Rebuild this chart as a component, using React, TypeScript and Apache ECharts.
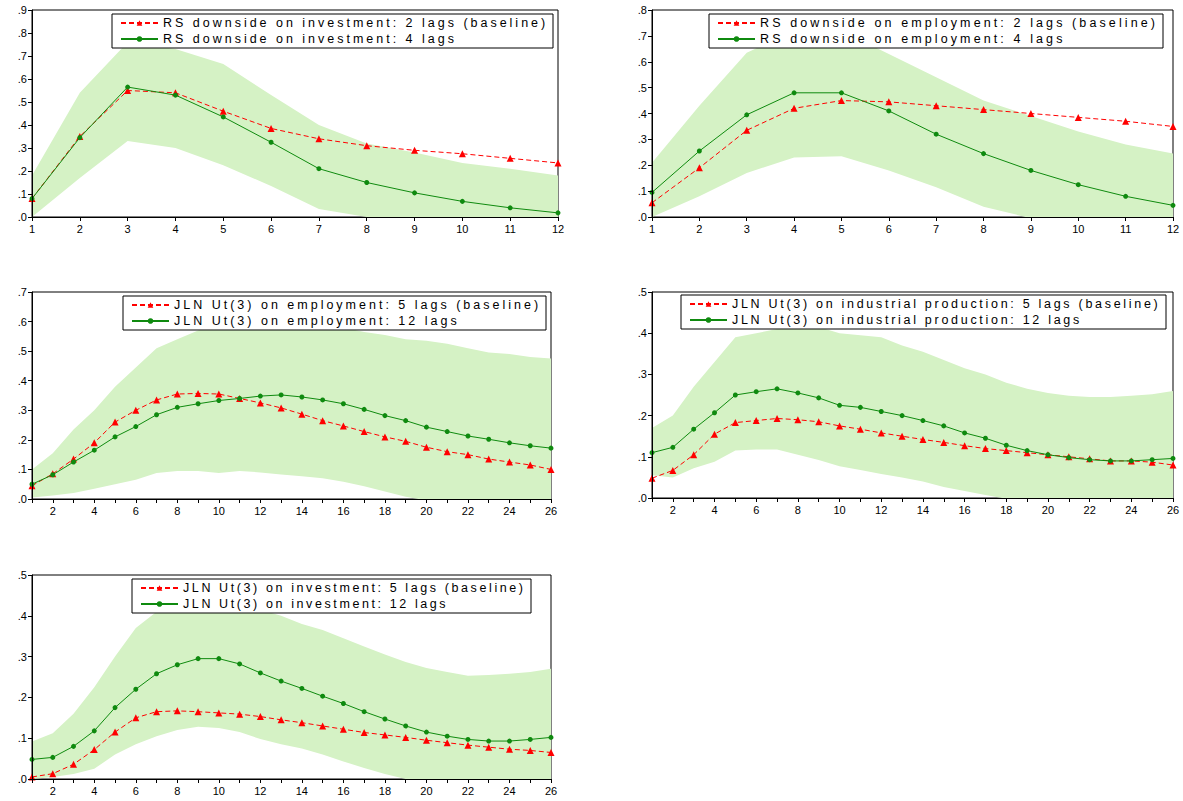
import React, { useEffect, useRef } from "react";
import * as echarts from "echarts";

const X12 = ["1", "2", "3", "4", "5", "6", "7", "8", "9", "10", "11", "12"];
const X26 = ["1", "2", "3", "4", "5", "6", "7", "8", "9", "10", "11", "12", "13", "14", "15", "16", "17", "18", "19", "20", "21", "22", "23", "24", "25", "26"];

// Panel 1: RS downside on investment
const p1Red = [0.08, 0.35, 0.55, 0.54, 0.46, 0.385, 0.34, 0.31, 0.29, 0.275, 0.255, 0.235];
const p1Green = [0.08, 0.345, 0.565, 0.53, 0.435, 0.325, 0.21, 0.15, 0.105, 0.068, 0.04, 0.018];
const p1Upper = [0.18, 0.54, 0.76, 0.73, 0.665, 0.53, 0.4, 0.32, 0.28, 0.235, 0.21, 0.18];
const p1Lower = [0.0, 0.17, 0.33, 0.3, 0.225, 0.135, 0.035, 0.0, -0.03, -0.05, -0.06, -0.07];

// Panel 2: RS downside on employment
const p2Red = [0.055, 0.19, 0.335, 0.42, 0.45, 0.445, 0.43, 0.415, 0.4, 0.385, 0.37, 0.35];
const p2Green = [0.095, 0.255, 0.395, 0.48, 0.48, 0.41, 0.32, 0.245, 0.18, 0.125, 0.08, 0.045];
const p2Upper = [0.21, 0.43, 0.635, 0.72, 0.72, 0.63, 0.54, 0.45, 0.39, 0.33, 0.28, 0.245];
const p2Lower = [0.0, 0.08, 0.17, 0.23, 0.235, 0.18, 0.115, 0.04, -0.005, -0.03, -0.05, -0.06];

// Panel 3: JLN Ut(3) on employment
const p3Red = [0.045, 0.085, 0.135, 0.19, 0.26, 0.3, 0.335, 0.355, 0.357, 0.355, 0.34, 0.325, 0.308, 0.287, 0.265, 0.247, 0.228, 0.21, 0.195, 0.175, 0.16, 0.15, 0.135, 0.125, 0.115, 0.1];
const p3Green = [0.05, 0.082, 0.125, 0.165, 0.21, 0.245, 0.285, 0.31, 0.322, 0.333, 0.34, 0.348, 0.352, 0.345, 0.335, 0.322, 0.303, 0.282, 0.265, 0.243, 0.228, 0.213, 0.202, 0.19, 0.18, 0.172];
const p3Upper = [0.1, 0.155, 0.235, 0.3, 0.38, 0.445, 0.51, 0.54, 0.57, 0.59, 0.6, 0.61, 0.61, 0.6, 0.59, 0.58, 0.565, 0.555, 0.54, 0.535, 0.525, 0.51, 0.495, 0.49, 0.48, 0.475];
const p3Lower = [0.005, 0.012, 0.02, 0.035, 0.05, 0.065, 0.088, 0.095, 0.095, 0.088, 0.095, 0.09, 0.083, 0.077, 0.07, 0.058, 0.043, 0.025, 0.008, -0.005, -0.015, -0.02, -0.03, -0.035, -0.04, -0.045];

// Panel 4: JLN Ut(3) on industrial production
const p4Red = [0.048, 0.067, 0.105, 0.155, 0.183, 0.188, 0.193, 0.19, 0.185, 0.175, 0.167, 0.158, 0.15, 0.142, 0.135, 0.127, 0.12, 0.115, 0.11, 0.105, 0.1, 0.095, 0.09, 0.09, 0.087, 0.08];
const p4Green = [0.11, 0.123, 0.167, 0.207, 0.25, 0.258, 0.265, 0.255, 0.243, 0.225, 0.22, 0.21, 0.2, 0.188, 0.175, 0.158, 0.145, 0.128, 0.115, 0.105, 0.098, 0.093, 0.09, 0.09, 0.093, 0.096];
const p4Upper = [0.17, 0.2, 0.27, 0.33, 0.39, 0.4, 0.41, 0.42, 0.415, 0.4, 0.395, 0.39, 0.37, 0.355, 0.335, 0.315, 0.3, 0.28, 0.265, 0.255, 0.248, 0.245, 0.245, 0.248, 0.252, 0.26];
const p4Lower = [0.055, 0.05, 0.072, 0.088, 0.115, 0.118, 0.118, 0.105, 0.092, 0.077, 0.068, 0.058, 0.05, 0.04, 0.027, 0.017, 0.007, -0.002, -0.01, -0.015, -0.02, -0.025, -0.03, -0.035, -0.04, -0.045];

// Panel 5: JLN Ut(3) on investment
const p5Red = [0.005, 0.013, 0.036, 0.072, 0.115, 0.15, 0.165, 0.167, 0.165, 0.162, 0.159, 0.153, 0.145, 0.138, 0.13, 0.122, 0.114, 0.108, 0.102, 0.095, 0.089, 0.083, 0.078, 0.073, 0.07, 0.065];
const p5Green = [0.048, 0.053, 0.08, 0.118, 0.175, 0.22, 0.258, 0.28, 0.295, 0.295, 0.282, 0.26, 0.24, 0.222, 0.203, 0.185, 0.165, 0.147, 0.13, 0.115, 0.105, 0.097, 0.093, 0.093, 0.097, 0.102];
const p5Upper = [0.092, 0.112, 0.16, 0.225, 0.3, 0.37, 0.41, 0.43, 0.44, 0.44, 0.43, 0.415, 0.4, 0.38, 0.365, 0.345, 0.325, 0.305, 0.287, 0.272, 0.262, 0.253, 0.255, 0.258, 0.262, 0.27];
const p5Lower = [0.0, 0.005, 0.012, 0.025, 0.06, 0.085, 0.105, 0.12, 0.128, 0.125, 0.115, 0.098, 0.085, 0.075, 0.06, 0.043, 0.027, 0.012, 0.0, -0.008, -0.015, -0.02, -0.025, -0.03, -0.035, -0.04];

const redNames = [
  "RS downside on investment: 2 lags (baseline)",
  "RS downside on employment: 2 lags (baseline)",
  "JLN Ut(3) on employment: 5 lags (baseline)",
  "JLN Ut(3) on industrial production: 5 lags (baseline)",
  "JLN Ut(3) on investment: 5 lags (baseline)",
];
const greenNames = [
  "RS downside on investment: 4 lags",
  "RS downside on employment: 4 lags",
  "JLN Ut(3) on employment: 12 lags",
  "JLN Ut(3) on industrial production: 12 lags",
  "JLN Ut(3) on investment: 12 lags",
];
const yMaxes = [0.9, 0.8, 0.7, 0.5, 0.5];

const RED = "#ff0000";
const GREEN = "#0f8a0f";
const BAND = "#d5f2c5";
const FONT = "Liberation Sans";
const LEGEND_SIZE = 12.5;

type Panel = { xs: string[]; red: number[]; green: number[]; upper: number[]; lower: number[] };
const panels: Panel[] = [
  { xs: X12, red: p1Red, green: p1Green, upper: p1Upper, lower: p1Lower },
  { xs: X12, red: p2Red, green: p2Green, upper: p2Upper, lower: p2Lower },
  { xs: X26, red: p3Red, green: p3Green, upper: p3Upper, lower: p3Lower },
  { xs: X26, red: p4Red, green: p4Green, upper: p4Upper, lower: p4Lower },
  { xs: X26, red: p5Red, green: p5Green, upper: p5Upper, lower: p5Lower },
];

// layout
const grids = [
  { left: 32, top: 10, width: 526, height: 207 },
  { left: 652, top: 10, width: 521, height: 207 },
  { left: 32, top: 292, width: 519, height: 207 },
  { left: 652, top: 292, width: 521, height: 206 },
  { left: 32, top: 575, width: 519, height: 204 },
];
const legendPos = [
  { right: 630, top: 14 },
  { right: 20, top: 14 },
  { right: 637, top: 296 },
  { right: 17, top: 295 },
  { right: 652, top: 579 },
];
// visible width of the baseline legend text in the reference
const legendTextWidth = [382, 395, 364, 426, 340];

export default function App() {
  const ref = useRef<HTMLDivElement>(null);
  useEffect(() => {
    if (!ref.current) return;
    const chart = echarts.init(ref.current, undefined, { renderer: "svg" });

    const ctx = document.createElement("canvas").getContext("2d")!;
    ctx.font = `${LEGEND_SIZE}px "${FONT}"`;
    const spacing = redNames.map((n, i) => {
      const w = ctx.measureText(n).width;
      return Math.max(0, (legendTextWidth[i] - w) / (n.length - 1));
    });
    const spacingByName: Record<string, number> = {};
    redNames.forEach((n, i) => {
      spacingByName[n] = spacing[i];
      spacingByName[greenNames[i]] = spacing[i];
    });

    const series: any[] = [];
    panels.forEach((p, i) => {
      series.push({
        type: "line",
        name: "band-lo-" + i,
        xAxisIndex: i,
        yAxisIndex: i,
        stack: "band" + i,
        stackStrategy: "all",
        data: p.lower,
        symbol: "none",
        lineStyle: { opacity: 0 },
        silent: true,
        z: 1,
      });
      series.push({
        type: "line",
        name: "band-hi-" + i,
        xAxisIndex: i,
        yAxisIndex: i,
        stack: "band" + i,
        stackStrategy: "all",
        data: p.upper.map((u, k) => u - p.lower[k]),
        symbol: "none",
        lineStyle: { opacity: 0 },
        areaStyle: { color: BAND, opacity: 1 },
        silent: true,
        z: 1,
      });
      series.push({
        type: "line",
        name: redNames[i],
        xAxisIndex: i,
        yAxisIndex: i,
        data: p.red,
        symbol: "triangle",
        symbolSize: 7,
        itemStyle: { color: RED },
        lineStyle: { color: RED, width: 1, type: [5, 3] },
        z: 3,
      });
      series.push({
        type: "line",
        name: greenNames[i],
        xAxisIndex: i,
        yAxisIndex: i,
        data: p.green,
        symbol: "circle",
        symbolSize: 5,
        itemStyle: { color: GREEN },
        lineStyle: { color: GREEN, width: 1 },
        z: 4,
      });
    });

    const option: any = {
      animation: false,
      grid: grids.map((g) => ({
        ...g,
        show: true,
        borderColor: "#000",
        borderWidth: 1,
        backgroundColor: "transparent",
        containLabel: false,
      })),
      xAxis: panels.map((p, i) => ({
        type: "category",
        gridIndex: i,
        data: p.xs,
        boundaryGap: false,
        axisLine: { show: true, onZero: false, lineStyle: { color: "#000", width: 1 } },
        axisTick: { show: true, interval: 0, length: 4, lineStyle: { color: "#000" } },
        splitLine: { show: false },
        axisLabel: {
          color: "#000",
          fontFamily: FONT,
          fontSize: 11,
          margin: 6,
          interval: 0,
          formatter: (v: string) =>
            p.xs.length > 12 ? (Number(v) % 2 === 0 ? v : "") : v,
        },
        z: 6,
      })),
      yAxis: panels.map((p, i) => ({
        type: "value",
        gridIndex: i,
        min: 0,
        max: yMaxes[i],
        interval: 0.1,
        axisLine: { show: true, lineStyle: { color: "#000", width: 1 } },
        axisTick: { show: true, length: 4, lineStyle: { color: "#000" } },
        splitLine: { show: false },
        axisLabel: {
          color: "#000",
          fontFamily: FONT,
          fontSize: 11,
          margin: 5,
          formatter: (v: number) => v.toFixed(1).replace(/^0/, ""),
        },
        z: 6,
      })),
      legend: panels.map((p, i) => ({
        ...legendPos[i],
        orient: "vertical",
        data: [redNames[i], greenNames[i]],
        backgroundColor: "#fff",
        borderColor: "#000",
        borderWidth: 1,
        borderRadius: 0,
        padding: [2, 8 + spacing[i] * (redNames[i].length - 1), 2, 8],
        itemGap: 2,
        itemWidth: 37,
        itemHeight: 7,
        selectedMode: false,
        textStyle: { color: "#000", fontFamily: FONT, fontSize: LEGEND_SIZE, lineHeight: 14 },
        z: 10,
      })),
      series,
    };

    const applySpacing = () => {
      const root = ref.current;
      if (!root) return;
      root.querySelectorAll("text").forEach((t) => {
        const s = t.textContent || "";
        if (s in spacingByName) {
          t.setAttribute("letter-spacing", spacingByName[s].toFixed(2) + "px");
        }
      });
    };
    chart.on("rendered", applySpacing);
    chart.setOption(option);
    applySpacing();
    const raf = requestAnimationFrame(applySpacing);
    return () => {
      cancelAnimationFrame(raf);
      chart.dispose();
    };
  }, []);
  return (
    <div
      ref={ref}
      style={{ position: "fixed", left: 0, top: 0, width: 1183, height: 801, background: "#fff" }}
    />
  );
}
